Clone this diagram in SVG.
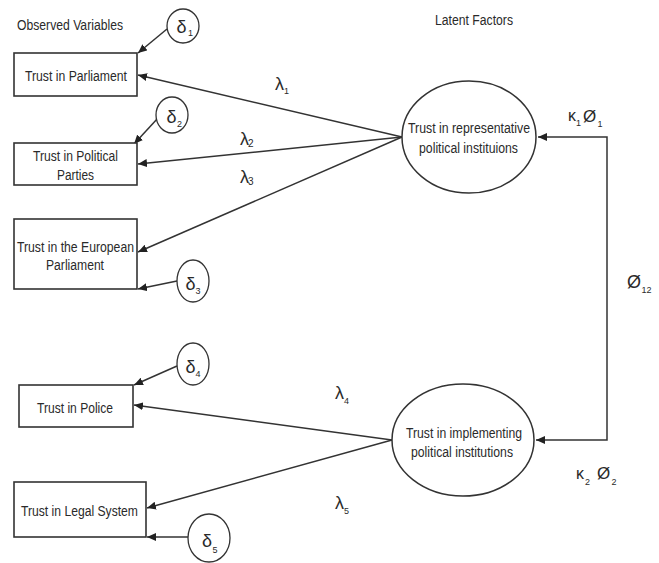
<svg xmlns="http://www.w3.org/2000/svg" width="659" height="563" viewBox="0 0 659 563">
<defs>
<marker id="ah" markerUnits="userSpaceOnUse" markerWidth="10" markerHeight="8" refX="9" refY="4" orient="auto">
<path d="M0,0 L9,4 L0,8 z" fill="#222"/>
</marker>
<style>
.box{fill:#fff;stroke:#333;stroke-width:1.6}
.lat{fill:#fff;stroke:#333;stroke-width:1.5}
.err{fill:#fff;stroke:#333;stroke-width:1.3}
.t{font-family:"Liberation Sans",Arial,sans-serif;font-size:15.5px;fill:#2a2a2a}
.g{font-family:"Liberation Sans","DejaVu Sans",sans-serif;font-size:18px;fill:#2a2a2a}
.s{font-family:"Liberation Sans",Arial,sans-serif;font-size:9px;fill:#2a2a2a}
.c{fill:none;stroke:#333;stroke-width:1.5;marker-end:url(#ah)}
</style>
</defs>
<rect width="659" height="563" fill="#fff"/>
<text class="t" x="17" y="30" textLength="106" lengthAdjust="spacingAndGlyphs">Observed Variables</text>
<text class="t" x="435" y="25" textLength="78" lengthAdjust="spacingAndGlyphs">Latent Factors</text>

<g id="connectors">
<path class="c" d="M402,137 L138,75"/>
<path class="c" d="M402,137 L138,164"/>
<path class="c" d="M402,137 L138,252"/>
<path class="c" d="M392,440 L134,405"/>
<path class="c" d="M392,440 L147,508"/>
<path class="c" d="M607,290 V137 H538"/>
<path class="c" d="M607,290 V440 H536"/>
<path class="c" d="M167,29 L138,53"/>
<path class="c" d="M158,118 L134,144"/>
<path class="c" d="M177,281 L138,289"/>
<path class="c" d="M177,366 L134,385"/>
<path class="c" d="M188,537 L147,537"/>
</g>

<g id="obs1">
<rect class="box" x="14" y="53" width="123" height="43"/>
<text class="t" x="25" y="81" textLength="102" lengthAdjust="spacingAndGlyphs">Trust in Parliament</text>
</g>
<g id="obs2">
<rect class="box" x="14" y="143" width="123" height="42"/>
<text class="t" x="33" y="161" textLength="85" lengthAdjust="spacingAndGlyphs">Trust in Political</text>
<text class="t" x="57" y="180" textLength="37" lengthAdjust="spacingAndGlyphs">Parties</text>
</g>
<g id="obs3">
<rect class="box" x="14" y="219" width="123" height="70"/>
<text class="t" x="17" y="252" textLength="117" lengthAdjust="spacingAndGlyphs">Trust in the European</text>
<text class="t" x="46" y="270" textLength="58" lengthAdjust="spacingAndGlyphs">Parliament</text>
</g>
<g id="obs4">
<rect class="box" x="19" y="385" width="114" height="42"/>
<text class="t" x="37" y="413" textLength="76" lengthAdjust="spacingAndGlyphs">Trust in Police</text>
</g>
<g id="obs5">
<rect class="box" x="14" y="482" width="132" height="55"/>
<text class="t" x="21" y="516" textLength="117" lengthAdjust="spacingAndGlyphs">Trust in Legal System</text>
</g>

<g id="lat1">
<ellipse class="lat" cx="469" cy="137" rx="67" ry="56"/>
<text class="t" x="408" y="133" textLength="122" lengthAdjust="spacingAndGlyphs">Trust in representative</text>
<text class="t" x="419" y="153" textLength="99" lengthAdjust="spacingAndGlyphs">political instituions</text>
</g>
<g id="lat2">
<ellipse class="lat" cx="463" cy="440" rx="71" ry="56"/>
<text class="t" x="406" y="438" textLength="116" lengthAdjust="spacingAndGlyphs">Trust in implementing</text>
<text class="t" x="411" y="457" textLength="102" lengthAdjust="spacingAndGlyphs">political institutions</text>
</g>

<g id="d1">
<ellipse class="err" cx="183" cy="26" rx="16" ry="17"/>
<text class="g" x="181.5" y="33" text-anchor="middle">δ</text><text class="s" x="188" y="36">1</text>
</g>
<g id="d2">
<ellipse class="err" cx="172" cy="115" rx="16" ry="18"/>
<text class="g" x="171.5" y="123" text-anchor="middle">δ</text><text class="s" x="177" y="127">2</text>
</g>
<g id="d3">
<ellipse class="err" cx="193" cy="281" rx="16" ry="21"/>
<text class="g" x="190.5" y="290" text-anchor="middle">δ</text><text class="s" x="195.5" y="294">3</text>
</g>
<g id="d4">
<ellipse class="err" cx="193" cy="364" rx="16" ry="21"/>
<text class="g" x="190.5" y="373" text-anchor="middle">δ</text><text class="s" x="195.5" y="377">4</text>
</g>
<g id="d5">
<ellipse class="err" cx="209" cy="538" rx="21" ry="24"/>
<text class="g" x="207" y="547" text-anchor="middle">δ</text><text class="s" x="212.5" y="553">5</text>
</g>

<g id="labels">
<text class="g" x="275" y="90">λ</text><text class="s" x="284" y="94">1</text>
<text class="g" x="240" y="145">λ</text><text class="s" x="248" y="147" style="font-size:10px">2</text>
<text class="g" x="240" y="183">λ</text><text class="s" x="248" y="185" style="font-size:10px">3</text>
<text class="g" x="335" y="399">λ</text><text class="s" x="344" y="404">4</text>
<text class="g" x="335" y="509">λ</text><text class="s" x="344" y="514">5</text>
<text class="g" x="568" y="121" style="font-size:16px">κ</text><text class="s" x="576" y="126">1</text>
<text class="g" x="583" y="122" style="font-size:17px">Ø</text><text class="s" x="597.5" y="127">1</text>
<text class="g" x="627" y="288" style="font-size:18px">Ø</text><text class="s" x="641.5" y="293">12</text>
<text class="g" x="576" y="479" style="font-size:16px">κ</text><text class="s" x="585" y="485">2</text>
<text class="g" x="597" y="479" style="font-size:17px">Ø</text><text class="s" x="611.5" y="485">2</text>
</g>
</svg>
